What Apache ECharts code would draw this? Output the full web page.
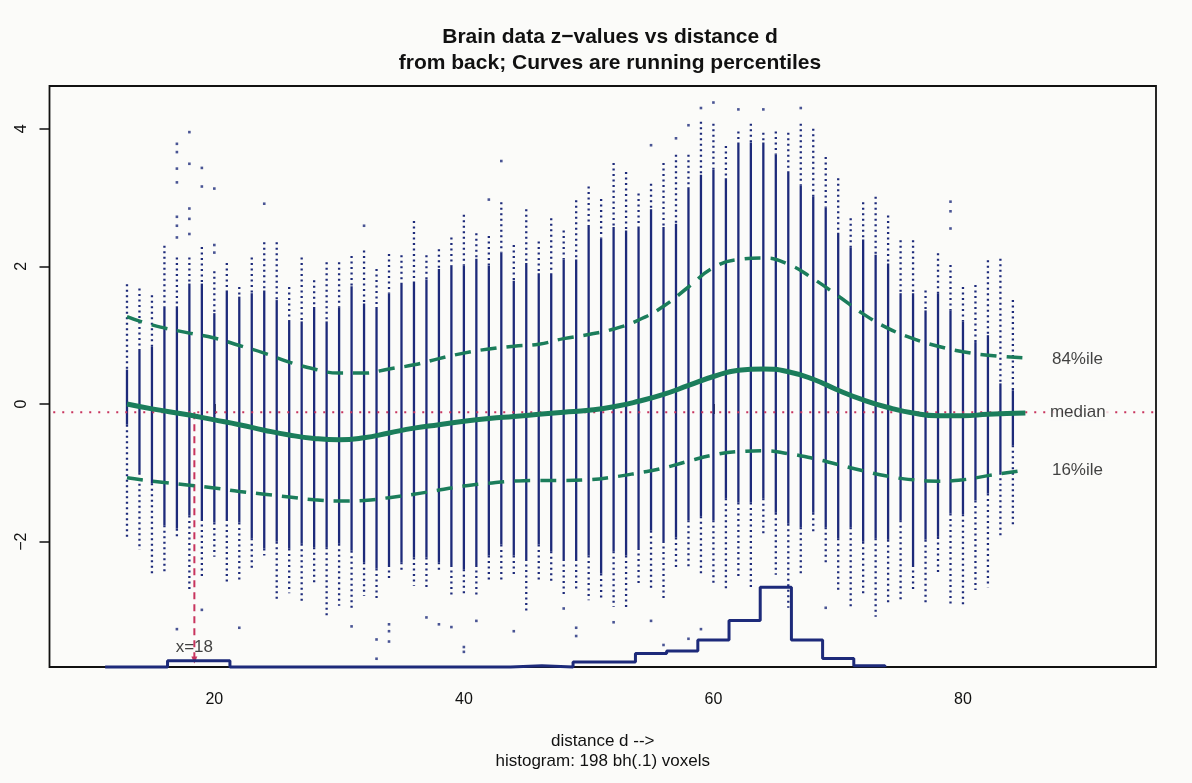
<!DOCTYPE html>
<html>
<head>
<meta charset="utf-8">
<title>Brain data z-values vs distance d</title>
<script src="https://cdn.jsdelivr.net/npm/echarts@6.0.0/dist/echarts.min.js"></script>
<style>
  html, body { margin: 0; padding: 0; background: #fbfbf9; }
  #chart { width: 1192px; height: 783px; }
</style>
</head>
<body>
<div id="chart"></div>
<script>
// columns of voxel z-values, one per distance d
const colD = [13,14,15,16,17,18,19,20,21,22,23,24,25,26,27,28,29,30,31,32,33,34,35,36,
  37,38,39,40,41,42,43,44,45,46,47,48,49,50,51,52,53,54,55,56,57,58,59,60,
  61,62,63,64,65,66,67,68,69,70,71,72,73,74,75,76,77,78,79,80,81,82,83,84];
// highest dot, top of dense part, bottom of dense part, lowest dot
const colTop = [1.74,1.68,1.58,2.30,2.13,2.13,2.28,1.93,2.05,1.70,2.13,2.35,2.35,1.70,2.13,1.80,2.06,2.06,2.15,2.23,1.96,2.18,2.16,2.66,
  2.16,2.25,2.42,2.75,2.48,2.44,2.93,2.31,2.83,2.36,2.70,2.52,2.96,3.16,2.98,3.50,3.37,3.06,3.20,3.50,3.62,3.62,4.10,4.07,
  3.75,3.96,4.07,3.94,3.96,3.94,4.07,4.00,3.59,3.28,2.70,2.93,3.01,2.74,2.38,2.38,1.65,2.19,2.02,1.70,1.73,2.09,2.11,1.51];
const colCoreTop = [0.50,0.80,0.83,1.42,1.42,1.75,1.75,1.32,1.65,1.56,1.61,1.65,1.51,1.22,1.20,1.41,1.20,1.40,1.71,1.46,1.41,1.61,1.76,1.76,
  1.81,1.96,2.01,2.01,2.11,2.01,2.20,1.79,2.05,1.90,1.90,2.10,2.10,2.60,2.41,2.57,2.52,2.57,2.83,2.57,2.62,3.15,3.33,3.40,
  3.28,3.80,3.80,3.80,3.62,3.38,3.17,3.01,2.85,2.49,2.27,2.39,2.17,2.04,1.61,1.61,1.36,1.61,1.36,1.20,0.90,1.00,0.30,0.20];
const colCoreBot = [-0.30,-1.00,-1.15,-1.76,-1.81,-1.62,-1.67,-1.72,-1.67,-1.72,-1.95,-2.10,-2.00,-2.10,-2.03,-2.08,-2.08,-2.03,-2.13,-2.30,-2.39,-2.34,-2.30,-2.23,
  -2.23,-2.30,-2.34,-2.40,-2.34,-2.20,-2.04,-2.20,-2.25,-2.04,-2.14,-2.25,-2.25,-2.20,-2.46,-2.14,-2.20,-2.09,-1.84,-1.99,-1.94,-1.69,-1.63,-1.69,
  -1.37,-1.43,-1.43,-1.37,-1.58,-1.74,-1.79,-1.58,-1.79,-1.95,-1.79,-2.00,-1.95,-1.97,-1.69,-2.34,-1.97,-1.93,-1.59,-1.60,-1.40,-1.30,-1.00,-0.60];
const colBot = [-1.93,-2.12,-2.50,-2.48,-1.97,-2.70,-2.55,-2.22,-2.58,-2.60,-2.43,-2.20,-2.83,-2.75,-2.88,-2.62,-3.07,-2.93,-3.00,-2.79,-2.85,-2.55,-2.45,-2.64,
  -2.70,-2.44,-2.80,-2.80,-2.80,-2.60,-2.60,-2.50,-3.00,-2.60,-2.60,-2.80,-2.72,-2.85,-2.85,-2.95,-2.95,-2.60,-2.70,-2.85,-2.40,-2.40,-2.48,-2.62,
  -2.72,-2.54,-2.66,-1.90,-2.48,-2.96,-2.47,-1.90,-2.30,-2.74,-2.95,-2.80,-3.09,-2.92,-2.87,-2.69,-2.92,-2.47,-2.94,-2.94,-2.70,-2.66,-1.93,-1.78];
// isolated dots [d, z]
const outliers = [[17,3.78],[17,3.66],[17,3.42],[17,3.22],[17,2.72],[17,2.59],[17,2.42],[17,-3.27],
  [18,3.95],[18,3.49],[18,2.84],[18,2.69],[18,2.47],[19,3.43],[19,3.16],[19,-2.99],
  [20,3.13],[20,2.31],[20,2.20],[22,-3.25],[24,2.91],[31,-3.23],[32,2.59],[33,-3.42],[33,-3.70],
  [34,-3.20],[34,-3.30],[34,-3.45],[37,-3.10],[38,-3.20],[39,-3.24],[40,-3.53],[40,-3.60],[41,-3.15],
  [42,2.97],[43,3.53],[44,-3.30],[48,-2.97],[49,-3.25],[49,-3.37],[52,-3.17],[55,3.76],[55,-3.15],[56,-3.50],
  [57,3.86],[58,4.05],[58,-3.41],[59,4.30],[59,-3.27],[60,4.38],[62,4.28],[64,4.28],[67,4.30],[69,-2.96],
  [79,2.94],[79,2.80],[79,2.55]];

// running percentiles
const pctD = [13,15,18,20,22,24,26,28,30,32,34,36,38,40,42,44,46,48,50,52,54,56,58,60,62,64,66,68,70,72,74,76,78,80,82,85];
const p84 = [1.27,1.15,1.03,0.96,0.85,0.74,0.61,0.51,0.45,0.45,0.51,0.57,0.66,0.74,0.80,0.84,0.87,0.95,1.01,1.09,1.22,1.42,1.70,1.98,
  2.10,2.12,2.03,1.82,1.57,1.31,1.10,0.95,0.84,0.76,0.71,0.67];
const p50 = [0.00,-0.07,-0.16,-0.23,-0.30,-0.38,-0.45,-0.50,-0.52,-0.49,-0.42,-0.35,-0.30,-0.25,-0.21,-0.18,-0.15,-0.12,-0.09,-0.04,0.04,0.14,0.27,0.40,
  0.49,0.51,0.47,0.36,0.20,0.06,-0.05,-0.13,-0.17,-0.17,-0.15,-0.13];
const p16 = [-1.07,-1.12,-1.18,-1.22,-1.27,-1.31,-1.35,-1.39,-1.41,-1.40,-1.36,-1.31,-1.25,-1.19,-1.15,-1.12,-1.11,-1.11,-1.10,-1.06,-1.00,-0.93,-0.83,-0.74,
  -0.69,-0.68,-0.72,-0.79,-0.88,-0.97,-1.05,-1.10,-1.12,-1.10,-1.04,-0.96];

// histogram of the 198 voxels
const histEdges = [11.25,13.75,16.25,18.75,21.25,23.75,26.25,28.75,31.25,33.75,36.25,38.75,41.25,
  43.75,46.25,48.75,51.25,53.75,56.25,58.75,61.25,63.75,66.25,68.75,71.25,73.75];
const histCounts = [0,0,5,5,0,0,0,0,0,0,0,0,0,1,0,4,4,11,13,22,38,65,22,7,1];

const xTicks = [20, 40, 60, 80];
const yTicks = [-2, 0, 2, 4];

const X_MIN = 6.79, X_MAX = 95.47, Y_MIN = -3.82, Y_MAX = 4.62;
const HIST_UNIT = 0.0178;   // z units per voxel
const REF_Z = -0.12;        // red dotted reference line
const MARK_D = 18.4;        // x=18 marker

const NAVY = '#1d2a7a';
const GREEN = '#1b7d5b';
const RED = '#c8345e';
const INK = '#111';
const FONT = 'Liberation Sans, Arial, Helvetica, sans-serif';

const columnData = colD.map((d, i) => [d, colTop[i], colCoreTop[i], colCoreBot[i], colBot[i]]);

const histData = histCounts.map((c, i) => [histEdges[i], Y_MIN + c * HIST_UNIT]);
histData.push([histEdges[histEdges.length - 1], Y_MIN]);

function zip(xs, ys) {
  return xs.map((x, i) => [x, ys[i]]);
}

function renderColumn(params, api) {
  const x = api.coord([api.value(0), 0])[0];
  const py = k => api.coord([0, api.value(k)])[1];
  const dotted = { stroke: NAVY, lineWidth: 2.3, lineDash: [2, 3.5] };
  return {
    type: 'group',
    children: [
      { type: 'line', shape: { x1: x, y1: py(1), x2: x, y2: py(2) }, style: dotted },
      { type: 'line', shape: { x1: x, y1: py(2), x2: x, y2: py(3) }, style: { stroke: NAVY, lineWidth: 2.3 } },
      { type: 'line', shape: { x1: x, y1: py(3), x2: x, y2: py(4) }, style: dotted }
    ]
  };
}

const labelStyle = { color: INK, fontSize: 16, fontFamily: FONT };

const option = {
  backgroundColor: '#fbfbf9',
  animation: false,
  textStyle: { fontFamily: FONT },
  title: {
    text: 'Brain data z\u2212values vs distance d\nfrom back; Curves are running percentiles',
    left: 605,
    textAlign: 'center',
    top: 19,
    textStyle: { fontSize: 21, fontWeight: 'bold', lineHeight: 26, color: INK, fontFamily: FONT }
  },
  grid: {
    left: 49.5, right: 36, top: 86, bottom: 116,
    show: true, borderColor: '#111', borderWidth: 1.8, backgroundColor: 'transparent'
  },
  xAxis: {
    type: 'value', min: X_MIN, max: X_MAX,
    name: 'distance d -->\nhistogram: 198 bh(.1) voxels',
    nameLocation: 'middle', nameGap: 64,
    nameTextStyle: { fontSize: 17, lineHeight: 20, color: INK, fontFamily: FONT },
    axisLine: { show: false },
    splitLine: { show: false },
    axisTick: { show: true, length: 10, customValues: xTicks, lineStyle: { color: INK, width: 1.5 } },
    axisLabel: Object.assign({ customValues: xTicks, margin: 25 }, labelStyle)
  },
  yAxis: {
    type: 'value', min: Y_MIN, max: Y_MAX,
    axisLine: { show: false },
    splitLine: { show: false },
    axisTick: { show: true, length: 10, customValues: yTicks, lineStyle: { color: INK, width: 1.5 } },
    axisLabel: Object.assign({ customValues: yTicks, margin: 20, rotate: 90,
      formatter: v => String(v).replace('-', '\u2212') }, labelStyle)
  },
  series: [
    {
      type: 'custom', name: 'voxels',
      renderItem: renderColumn,
      encode: { x: 0, y: [1, 2, 3, 4] },
      data: columnData, z: 1
    },
    {
      type: 'scatter', name: 'outliers',
      symbol: 'rect', symbolSize: 2.6,
      itemStyle: { color: NAVY },
      data: outliers, z: 1
    },
    {
      type: 'line', name: 'histogram',
      step: 'end', symbol: 'none', clip: false,
      lineStyle: { color: NAVY, width: 3 },
      data: histData, z: 3
    },
    {
      type: 'line', name: 'reference',
      symbol: 'none',
      lineStyle: { color: RED, width: 2, type: [2, 7] },
      data: [[X_MIN + 0.3, REF_Z], [X_MAX, REF_Z]], z: 2
    },
    {
      type: 'line', name: 'marker',
      lineStyle: { color: RED, width: 2, type: [7, 5] },
      showSymbol: true,
      data: [
        { value: [MARK_D, REF_Z], symbol: 'none' },
        { value: [MARK_D, Y_MIN + 0.1], symbol: 'triangle', symbolRotate: 180, symbolSize: [6, 7],
          itemStyle: { color: RED } }
      ], z: 2
    },
    {
      type: 'line', name: '84%ile', smooth: true, symbol: 'none',
      lineStyle: { color: GREEN, width: 3.5, type: [16, 10] },
      data: zip(pctD, p84), z: 4
    },
    {
      type: 'line', name: 'median', smooth: true, symbol: 'none',
      lineStyle: { color: GREEN, width: 5 },
      data: zip(pctD, p50), z: 4
    },
    {
      type: 'line', name: '16%ile', smooth: true, symbol: 'none',
      lineStyle: { color: GREEN, width: 3.5, type: [16, 10] },
      data: zip(pctD, p16), z: 4
    },
    {
      type: 'scatter', name: 'labels', symbolSize: 0, z: 5,
      label: { show: true, position: 'right', distance: 0, formatter: '{b}',
        color: INK, fontSize: 17, fontFamily: FONT },
      data: [
        { name: '84%ile', value: [87.13, 0.65] },
        { name: 'median', value: [86.97, REF_Z],
          label: { backgroundColor: '#fbfbf9', padding: [0, 3, 0, 0] } },
        { name: '16%ile', value: [87.13, -0.97] }
      ]
    },
    {
      type: 'scatter', name: 'markLabel', symbolSize: 0, z: 5,
      label: { show: true, position: 'inside', formatter: '{b}',
        color: INK, fontSize: 17, fontFamily: FONT },
      data: [{ name: 'x=18', value: [MARK_D, -3.53] }]
    }
  ]
};

const chart = echarts.init(document.getElementById('chart'));
chart.setOption(option);
window.addEventListener('resize', () => { chart.resize(); });
</script>
</body>
</html>
